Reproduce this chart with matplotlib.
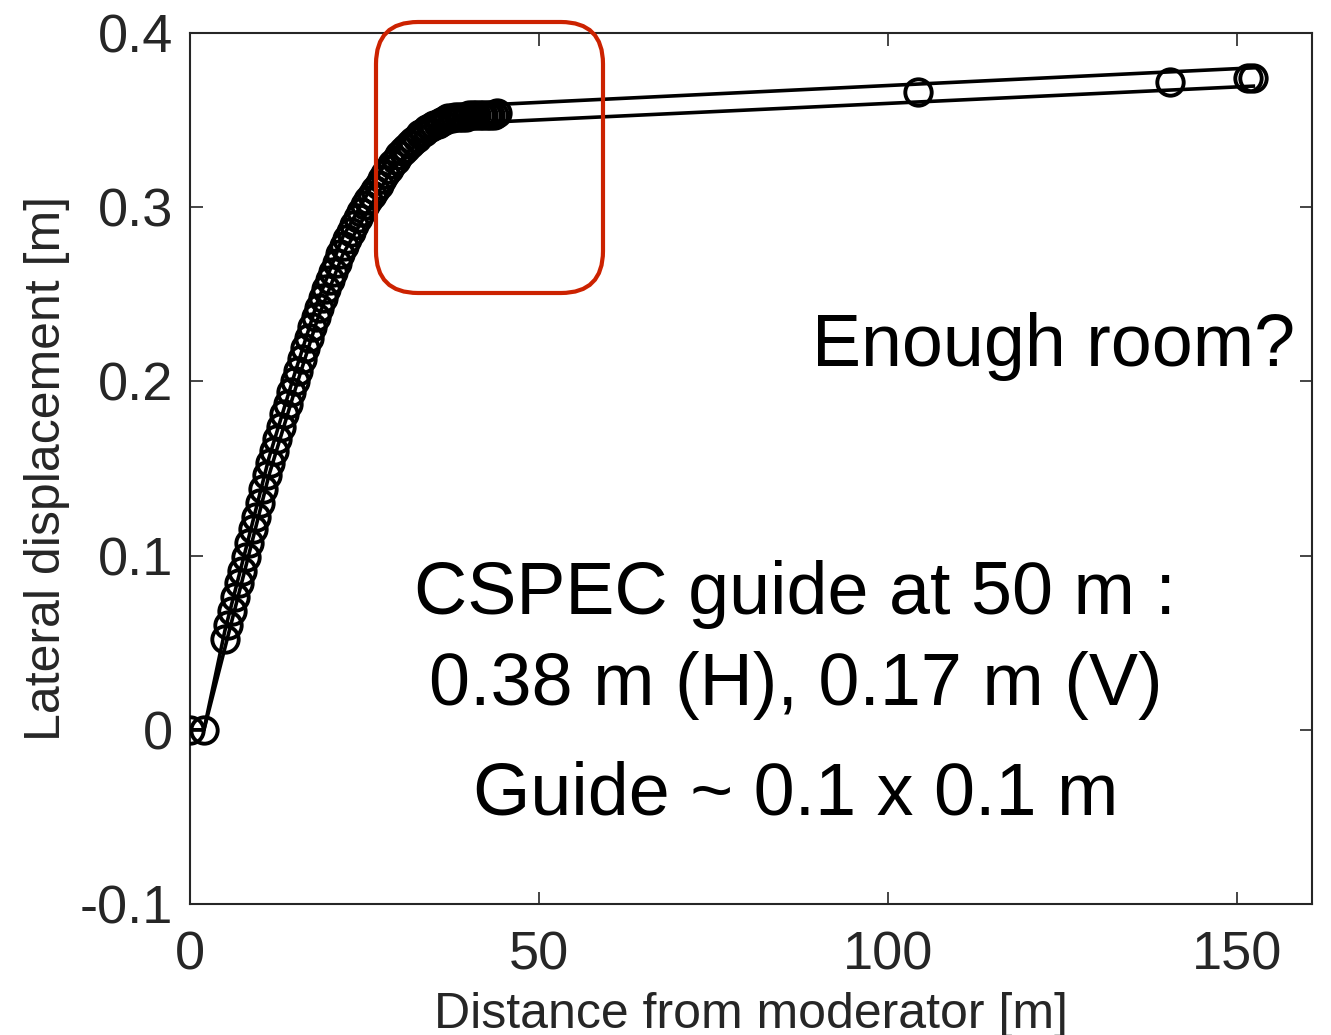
import matplotlib
matplotlib.use('Agg')
import matplotlib.pyplot as plt
from matplotlib.patches import FancyBboxPatch

plt.rcParams['font.family'] = ['Liberation Sans', 'DejaVu Sans']
plt.rcParams['axes.unicode_minus'] = False

# markers along the guide path (distance [m], lateral displacement [m])
marker_x = [0.0, 2.0,
            5.0, 5.5, 6.0, 6.5, 7.0, 7.5, 8.0, 8.5, 9.0, 9.5,
            10.0, 10.5, 11.0, 11.5, 12.0, 12.5, 13.0, 13.5, 14.0, 14.5,
            15.0, 15.5, 16.0, 16.5, 17.0, 17.5, 18.0, 18.5, 19.0, 19.5,
            20.0, 20.5, 21.0, 21.5, 22.0, 22.5, 23.0, 23.5, 24.0, 24.5,
            25.0, 25.5, 26.0, 26.5, 27.0, 27.5, 28.0, 28.5, 29.0, 29.5,
            30.0, 30.5, 31.0, 31.5, 32.0, 32.5, 33.0, 33.5, 34.0, 34.5,
            35.0, 35.5, 36.0, 36.5, 37.0, 37.5, 38.0, 38.5, 39.0, 39.5,
            40.0, 40.5, 41.0, 41.5, 42.0, 42.5, 43.0, 43.5, 44.0,
            104.2, 140.4, 151.6, 152.3]
marker_y = [0.0, 0.0,
            0.052, 0.060, 0.068, 0.076, 0.084, 0.091, 0.099, 0.107, 0.115, 0.122,
            0.130, 0.138, 0.146, 0.153, 0.160, 0.167, 0.174, 0.181, 0.187, 0.194,
            0.200, 0.206, 0.213, 0.219, 0.225, 0.231, 0.237, 0.242, 0.248, 0.253,
            0.258, 0.263, 0.268, 0.273, 0.278, 0.282, 0.286, 0.290, 0.294, 0.297,
            0.301, 0.304, 0.307, 0.310, 0.313, 0.316, 0.319, 0.322, 0.325, 0.327,
            0.330, 0.332, 0.334, 0.336, 0.338, 0.340, 0.342, 0.343, 0.345, 0.346,
            0.347, 0.348, 0.349, 0.350, 0.351, 0.351, 0.352, 0.352, 0.352, 0.352,
            0.353, 0.353, 0.353, 0.353, 0.353, 0.353, 0.353, 0.353, 0.354,
            0.366, 0.372, 0.374, 0.374]

# the two guide walls
wall_x = [0, 2, 5, 8.2, 11.3, 14.8, 18.2, 21.9, 25.9, 28.7, 31.5, 35.4, 40.1, 44, 152.3]
wall_upper = [0, 0, 0.057, 0.107, 0.156, 0.202, 0.245, 0.283, 0.311, 0.330,
              0.343, 0.354, 0.357, 0.359, 0.380]
wall_lower = [0, 0, 0.047, 0.097, 0.146, 0.192, 0.235, 0.273, 0.301, 0.320,
              0.333, 0.344, 0.347, 0.349, 0.3695]

x_ticks = [0, 50, 100, 150]
y_ticks = [-0.1, 0, 0.1, 0.2, 0.3, 0.4]
y_tick_labels = ['-0.1', '0', '0.1', '0.2', '0.3', '0.4']

fig = plt.figure(figsize=(13.31, 10.35), dpi=100)
ax = fig.add_axes([190 / 1331, 131 / 1035, 1122 / 1331, 871 / 1035])

ax.plot(wall_x, wall_upper, color='black', lw=2.6, zorder=2)
ax.plot(wall_x, wall_lower, color='black', lw=2.6, zorder=2)
ax.plot(marker_x, marker_y, ls='none', marker='o', ms=19, mfc='none',
        mec='black', mew=2.8, zorder=3)

ax.set_xlim(0, 160.7)
ax.set_ylim(-0.1, 0.4)
ax.set_xticks(x_ticks)
ax.set_xticklabels([str(t) for t in x_ticks])
ax.set_yticks(y_ticks)
ax.set_yticklabels(y_tick_labels)

grey = '#262626'
for s in ax.spines.values():
    s.set_color(grey)
    s.set_linewidth(1.5)
ax.tick_params(direction='in', length=9, width=1.2, color=grey,
               labelsize=39, labelcolor=grey, top=True, right=True, pad=12)
ax.tick_params(axis='x', pad=19)

ax.set_xlabel('Distance from moderator [m]', fontsize=36, color=grey, labelpad=8)
ax.set_ylabel('Lateral displacement [m]', fontsize=36, color=grey, labelpad=7)

ax.text(158.3, 0.209, 'Enough room?', fontsize=53, ha='right', va='baseline')
ax.text(86.7, 0.0667, 'CSPEC guide at 50 m :', fontsize=53, ha='center', va='baseline')
ax.text(86.7, 0.0144, '0.38 m (H), 0.17 m (V)', fontsize=53, ha='center', va='baseline')
ax.text(86.7, -0.0489, 'Guide ~ 0.1 x 0.1 m', fontsize=53, ha='center', va='baseline')

# red highlight box (figure inches, 100 px per inch)
box = FancyBboxPatch((3.76, 7.42), 2.27, 2.71,
                     boxstyle='round,pad=0,rounding_size=0.42',
                     transform=fig.dpi_scale_trans, fill=False,
                     edgecolor='#cc2200', linewidth=3, zorder=10)
fig.add_artist(box)

fig.savefig('out.png', dpi=100)
